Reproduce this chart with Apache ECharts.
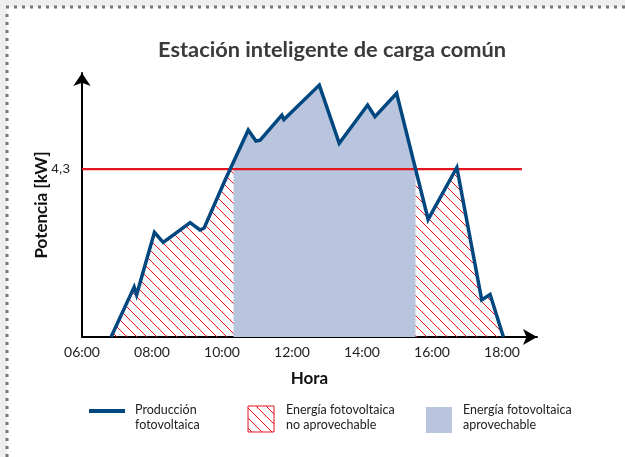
<!DOCTYPE html>
<html>
<head>
<meta charset="utf-8">
<script src="https://cdn.jsdelivr.net/npm/echarts@6/dist/echarts.min.js"></script>
<style>
html,body{margin:0;padding:0;background:#efefef;}
#c{width:625px;height:457px;}
</style>
</head>
<body>
<div id="c"></div>
<script>
// ---- data ----
var titleText = 'Estación inteligente de carga común';
var xTickLabels = ['06:00','08:00','10:00','12:00','14:00','16:00','18:00'];
var yTickValues = [4.3];
var hours = [6.83, 7.49, 7.56, 8.07, 8.32, 9.09, 9.37, 9.49, 10.09, 10.75, 10.97, 11.09, 11.71, 11.77, 12.78, 13.35, 14.16, 14.37, 14.99, 15.89, 16.71, 17.42, 17.66, 18.04];
var power = [0, 1.28, 1.08, 2.68, 2.42, 2.93, 2.74, 2.79, 4.02, 5.30, 5.02, 5.04, 5.68, 5.57, 6.45, 4.96, 5.94, 5.64, 6.24, 3.01, 4.34, 0.95, 1.09, 0];
var limitValue = 4.3;
var limitRange = [6, 18.57];
var usableRange = [10.33, 15.53];
var legendLabels = ['Producción\nfotovoltaica', 'Energía fotovoltaica\nno aprovechable', 'Energía fotovoltaica\naprovechable'];

var NAVY = '#00477f', RED = '#e3151f', FILL = '#b9c5de';

function valueAt(h){
  for (var i = 0; i < hours.length - 1; i++) {
    if (h >= hours[i] && h <= hours[i+1]) {
      var t = (h - hours[i]) / (hours[i+1] - hours[i]);
      return power[i] + t * (power[i+1] - power[i]);
    }
  }
  return 0;
}
var curve = hours.map(function(h, i){ return [h, power[i]]; });
var usable = [[usableRange[0], valueAt(usableRange[0])]];
var hatch = [];
curve.forEach(function(p){
  if (p[0] > usableRange[0] && p[0] < usableRange[1]) usable.push(p);
});
usable.push([usableRange[1], valueAt(usableRange[1])]);
curve.forEach(function(p){ if (p[0] < usableRange[0]) hatch.push(p); });
hatch.push([usableRange[0], valueAt(usableRange[0])]);
hatch.push([usableRange[0], null]);
hatch.push([usableRange[1], valueAt(usableRange[1])]);
curve.forEach(function(p){ if (p[0] > usableRange[1]) hatch.push(p); });

// hatch pattern
var pc = document.createElement('canvas');
pc.width = 10; pc.height = 10;
var g = pc.getContext('2d');
g.strokeStyle = RED; g.lineWidth = 1;
[-10, 0, 10].forEach(function(o){
  g.beginPath(); g.moveTo(o, 0); g.lineTo(o + 10, 10); g.stroke();
});
var hatchPattern = { image: pc, repeat: 'repeat' };

var FONT = 'Lato';
var chart = echarts.init(document.getElementById('c'));
chart.setOption({
  animation: false,
  backgroundColor: 'transparent',
  title: {
    text: titleText, left: 153, top: 34,
    textStyle: { fontFamily: FONT, fontSize: 21.8, fontWeight: 'bold', color: '#3a3a3a' }
  },
  grid: { left: 82, right: 88, top: 73, bottom: 120 },
  xAxis: {
    type: 'value', min: 6, max: 19, interval: 2,
    name: 'Hora', nameLocation: 'middle', nameGap: 33,
    nameTextStyle: { fontFamily: FONT, fontSize: 17, fontWeight: 'bold', color: '#111' },
    axisLine: { show: true, symbol: ['none', 'arrow'], symbolSize: [12, 14], lineStyle: { color: '#000', width: 2 } },
    axisTick: { show: false },
    splitLine: { show: false },
    axisLabel: {
      fontFamily: FONT, fontSize: 14, color: '#222', margin: 8,
      formatter: function(v){ var i = (v - 6) / 2; return (i >= 0 && i < xTickLabels.length) ? xTickLabels[i] : ''; }
    }
  },
  yAxis: {
    type: 'value', min: 0, max: 6.76,
    name: 'Potencia [kW]', nameLocation: 'middle', nameGap: 32, nameRotate: 90, nameMoveOverlap: false,
    nameTextStyle: { fontFamily: FONT, fontSize: 17, fontWeight: 'bold', color: '#111' },
    axisLine: { show: true, symbol: ['none', 'arrow'], symbolSize: [13, 13], lineStyle: { color: '#000', width: 2 } },
    axisTick: { show: false },
    splitLine: { show: false },
    axisLabel: {
      customValues: yTickValues, margin: 12,
      fontFamily: 'Liberation Sans', fontSize: 13.5, color: '#222',
      formatter: function(v){ return String(v).replace('.', ','); }
    }
  },
  series: [
    { type: 'line', data: usable, symbol: 'none', lineStyle: { width: 0 }, areaStyle: { color: FILL, opacity: 1 }, z: 1 },
    { type: 'line', data: hatch, symbol: 'none', connectNulls: false, lineStyle: { width: 0 }, areaStyle: { color: hatchPattern, opacity: 1 }, z: 1 },
    { type: 'line', data: [[limitRange[0], limitValue], [limitRange[1], limitValue]], symbol: 'none', lineStyle: { color: RED, width: 2.2 }, z: 2 },
    { type: 'line', data: curve, symbol: 'none', lineStyle: { color: NAVY, width: 3.5, join: 'miter' }, z: 3 }
  ],
  graphic: [
    { type: 'rect', z: -10, shape: { x: 7, y: 7, width: 618, height: 450 }, style: { fill: '#fff' } },
    { type: 'line', shape: { x1: 6, y1: 7, x2: 625, y2: 7 }, style: { stroke: '#777', lineWidth: 3, lineDash: [3, 5] } },
    { type: 'line', shape: { x1: 7, y1: 14, x2: 7, y2: 457 }, style: { stroke: '#777', lineWidth: 3, lineDash: [3, 5] } },
    // legend
    { type: 'rect', shape: { x: 89, y: 409, width: 36, height: 4 }, style: { fill: NAVY } },
    { type: 'text', x: 135, y: 417.5, style: { text: legendLabels[0], font: '12.5px Lato', fill: '#222', textVerticalAlign: 'middle', lineHeight: 15 } },
    { type: 'rect', shape: { x: 248, y: 406, width: 26, height: 26 }, style: { fill: hatchPattern, stroke: RED, lineWidth: 1 } },
    { type: 'text', x: 286, y: 417.5, style: { text: legendLabels[1], font: '12.5px Lato', fill: '#222', textVerticalAlign: 'middle', lineHeight: 15 } },
    { type: 'rect', shape: { x: 426, y: 407, width: 26, height: 26 }, style: { fill: FILL } },
    { type: 'text', x: 463, y: 417.5, style: { text: legendLabels[2], font: '12.5px Lato', fill: '#222', textVerticalAlign: 'middle', lineHeight: 15 } }
  ]
});
</script>
</body>
</html>
